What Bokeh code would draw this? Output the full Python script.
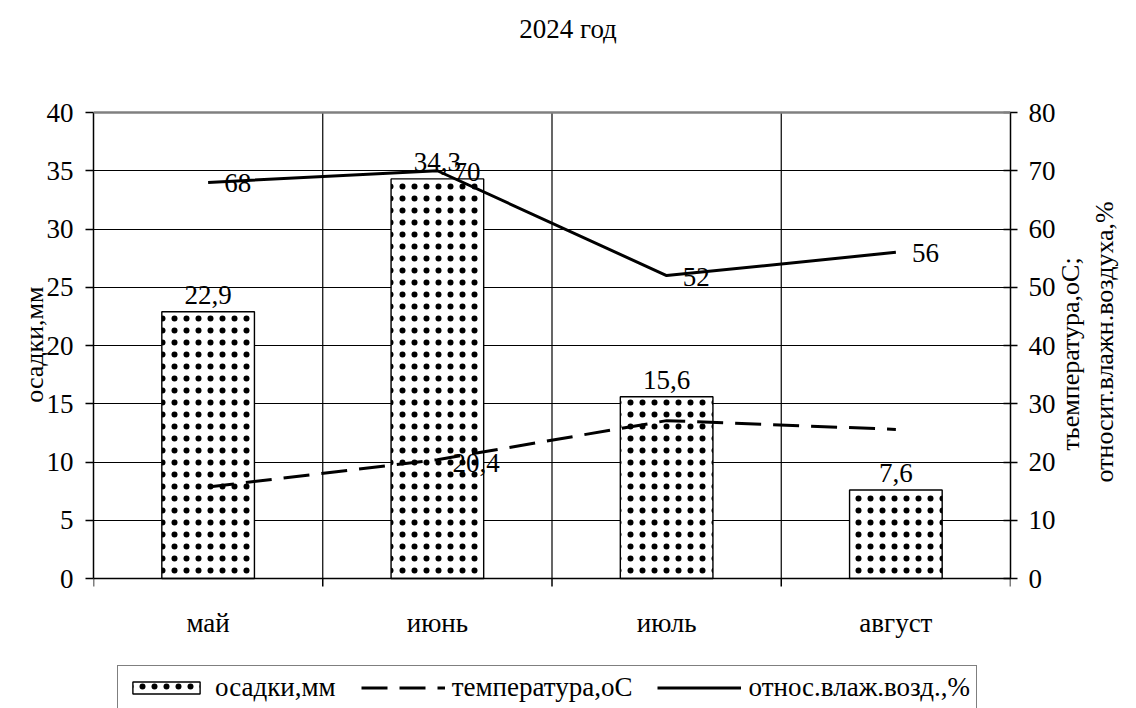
import math
from bokeh.plotting import figure
from bokeh.models import (Range1d, LinearAxis, FixedTicker, Span,
                          Legend, LegendItem, ColumnDataSource)
from bokeh.embed import file_html
from bokeh.resources import INLINE
from bokeh.core.properties import value

# ---- data ----
months = ["май", "июнь", "июль", "август"]
precip = [22.9, 34.3, 15.6, 7.6]
temperature = [15.7, 20.4, 27.1, 25.6]
humidity = [68, 70, 52, 56]
precip_labels = ["22,9", "34,3", "15,6", "7,6"]
temp_labels = ["", "20,4", "", ""]
hum_labels = ["68", "70", "52", "56"]
left_ticks = [0, 5, 10, 15, 20, 25, 30, 35, 40]
right_ticks = [0, 10, 20, 30, 40, 50, 60, 70, 80]
title_text = "2024 год"
left_title = "осадки,мм"
right_title_1 = "тьемпература,оС;"
right_title_2 = "относит.влажн.воздуха,%"
legend_labels = ["осадки,мм", "температура,оС", "относ.влаж.возд.,%"]

FONT = "Liberation Serif"
FS = "27px"

# ---- geometry (pixels) ----
W, H = 1136, 708
PLOT_TOP, PLOT_BOTTOM = 112, 578          # where 40 and 0 of the left scale sit
PPU = (PLOT_BOTTOM - PLOT_TOP) / 40.0     # pixels per left-axis unit
Y_LO = -(H - PLOT_BOTTOM) / PPU
Y_HI = 40 + PLOT_TOP / PPU
LEFT_TITLE_Y = (PLOT_BOTTOM - 286) / PPU          # top end of the left title
RIGHT_TITLE_Y1 = (PLOT_BOTTOM - 450) / (PPU / 2)  # bottom end of right title, line 1
RIGHT_TITLE_Y2 = (PLOT_BOTTOM - 482) / (PPU / 2)  # bottom end of right title, line 2

xs = [i + 0.5 for i in range(len(months))]
bounds = list(range(len(months) + 1))

p = figure(width=W, height=H, x_range=Range1d(0, 4), y_range=Range1d(Y_LO, Y_HI),
           output_backend="svg", toolbar_location=None, x_axis_location=None,
           min_border_left=93, min_border_right=122, min_border_top=0,
           min_border_bottom=0)
p.outline_line_color = None
p.background_fill_color = "white"
p.border_fill_color = "white"
p.extra_y_ranges = {"right": Range1d(2 * Y_LO, 2 * Y_HI)}

# horizontal grid, top border, zero line
p.xgrid.visible = False
p.ygrid.ticker = FixedTicker(ticks=left_ticks[1:-1])
p.ygrid.grid_line_color = "black"
p.ygrid.grid_line_width = 1.2
p.add_layout(Span(location=left_ticks[-1], dimension="width",
                  line_color="#808080", line_width=2.5))
p.add_layout(Span(location=0, dimension="width", line_color="black",
                  line_width=1.5, level="overlay"))

# vertical grid lines between the months
p.segment(x0=bounds[1:-1], y0=0, x1=bounds[1:-1], y1=left_ticks[-1],
          line_color="black", line_width=1.2, level="underlay")
# tick marks of the category axis
p.segment(x0=bounds, y0=0, x1=bounds, y1=-8 / PPU, line_color="black",
          line_width=1.5)
# category labels
p.text(x=xs, y=[-(622 - PLOT_BOTTOM) / PPU] * len(xs), text=months,
       text_align="center", text_baseline="middle", text_font=value(FONT),
       text_font_size=FS, text_color="black")
# chart title
p.text(x=[2.07], y=[(PLOT_BOTTOM - 28) / PPU], text=[title_text],
       text_align="center", text_baseline="middle", text_font=value(FONT),
       text_font_size=FS, text_color="black")


def style_axis(ax, ticks, tick_in, tick_out, standoff):
    ax.ticker = FixedTicker(ticks=ticks)
    ax.bounds = (ticks[0], ticks[-1])
    ax.major_tick_out = tick_out
    ax.major_tick_in = tick_in
    ax.minor_tick_out = 0
    ax.minor_tick_in = 0
    ax.axis_line_color = "black"
    ax.axis_line_width = 1.5
    ax.major_tick_line_color = "black"
    ax.major_tick_line_width = 1.5
    ax.major_label_text_font = FONT
    ax.major_label_text_font_size = FS
    ax.major_label_text_color = "black"
    ax.major_label_standoff = standoff


def title_axis(text, y, y_range_name, standoff):
    # an axis with one invisible tick whose label is the (rotated) axis title
    ax = LinearAxis(ticker=FixedTicker(ticks=[y]))
    if y_range_name:
        ax.y_range_name = y_range_name
    ax.major_label_overrides = {y: text}
    ax.major_label_orientation = math.pi / 2
    ax.major_label_text_font = FONT
    ax.major_label_text_font_size = "26px"
    ax.major_label_text_color = "black"
    ax.major_label_standoff = standoff
    ax.axis_line_color = None
    ax.major_tick_line_color = None
    ax.minor_tick_line_color = None
    ax.major_tick_out = 0
    ax.major_tick_in = 0
    ax.minor_tick_out = 0
    ax.minor_tick_in = 0
    return ax


# left axis and its title
style_axis(p.yaxis[0], left_ticks, 0, 8, 12)
p.add_layout(title_axis(left_title, LEFT_TITLE_Y, None, 9), "left")

# right axis and its two-line title
ra = LinearAxis(y_range_name="right")
style_axis(ra, right_ticks, 7, 7, 11)
p.add_layout(ra, "right")
p.add_layout(title_axis(right_title_1, RIGHT_TITLE_Y1, "right", 12), "right")
p.add_layout(title_axis(right_title_2, RIGHT_TITLE_Y2, "right", 2), "right")

# bars (white with a small black dot pattern)
src = ColumnDataSource(dict(x=xs, top=precip, lab=precip_labels))
bars = p.vbar(x="x", top="top", width=0.404, source=src, fill_color="white",
              line_color="black", line_width=1.4, hatch_pattern="dot",
              hatch_color="black", hatch_scale=12, hatch_weight=0.3)

# lines
tsrc = ColumnDataSource(dict(x=xs, y=temperature, lab=temp_labels))
hsrc = ColumnDataSource(dict(x=xs, y=humidity, lab=hum_labels))
temp = p.line("x", "y", source=tsrc, y_range_name="right", line_color="black",
              line_width=3, line_dash="26 12")
hum = p.line("x", "y", source=hsrc, y_range_name="right", line_color="black",
             line_width=3)

# data labels
p.text("x", "top", text="lab", source=src, text_align="center",
       text_baseline="alphabetic", y_offset=-17, text_font=value(FONT),
       text_font_size=FS, text_color="black")
p.text("x", "y", text="lab", source=tsrc, y_range_name="right", text_align="left",
       text_baseline="middle", x_offset=15, y_offset=3, text_font=value(FONT),
       text_font_size=FS, text_color="black")
p.text("x", "y", text="lab", source=hsrc, y_range_name="right", text_align="left",
       text_baseline="middle", x_offset=16, y_offset=1, text_font=value(FONT),
       text_font_size=FS, text_color="black")

# legend (inside the frame, at its bottom)
legend = Legend(items=[LegendItem(label=legend_labels[0], renderers=[bars]),
                       LegendItem(label=legend_labels[1], renderers=[temp]),
                       LegendItem(label=legend_labels[2], renderers=[hum])],
                location=(24, -2), orientation="horizontal",
                border_line_color="black", border_line_width=1.5,
                background_fill_color="white", background_fill_alpha=1,
                label_text_font=FONT, label_text_font_size=FS,
                label_text_color="black", glyph_width=84, glyph_height=15,
                label_standoff=7, spacing=25, padding=6, margin=0)
p.add_layout(legend)

open("out.html", "w").write(file_html(p, INLINE))
